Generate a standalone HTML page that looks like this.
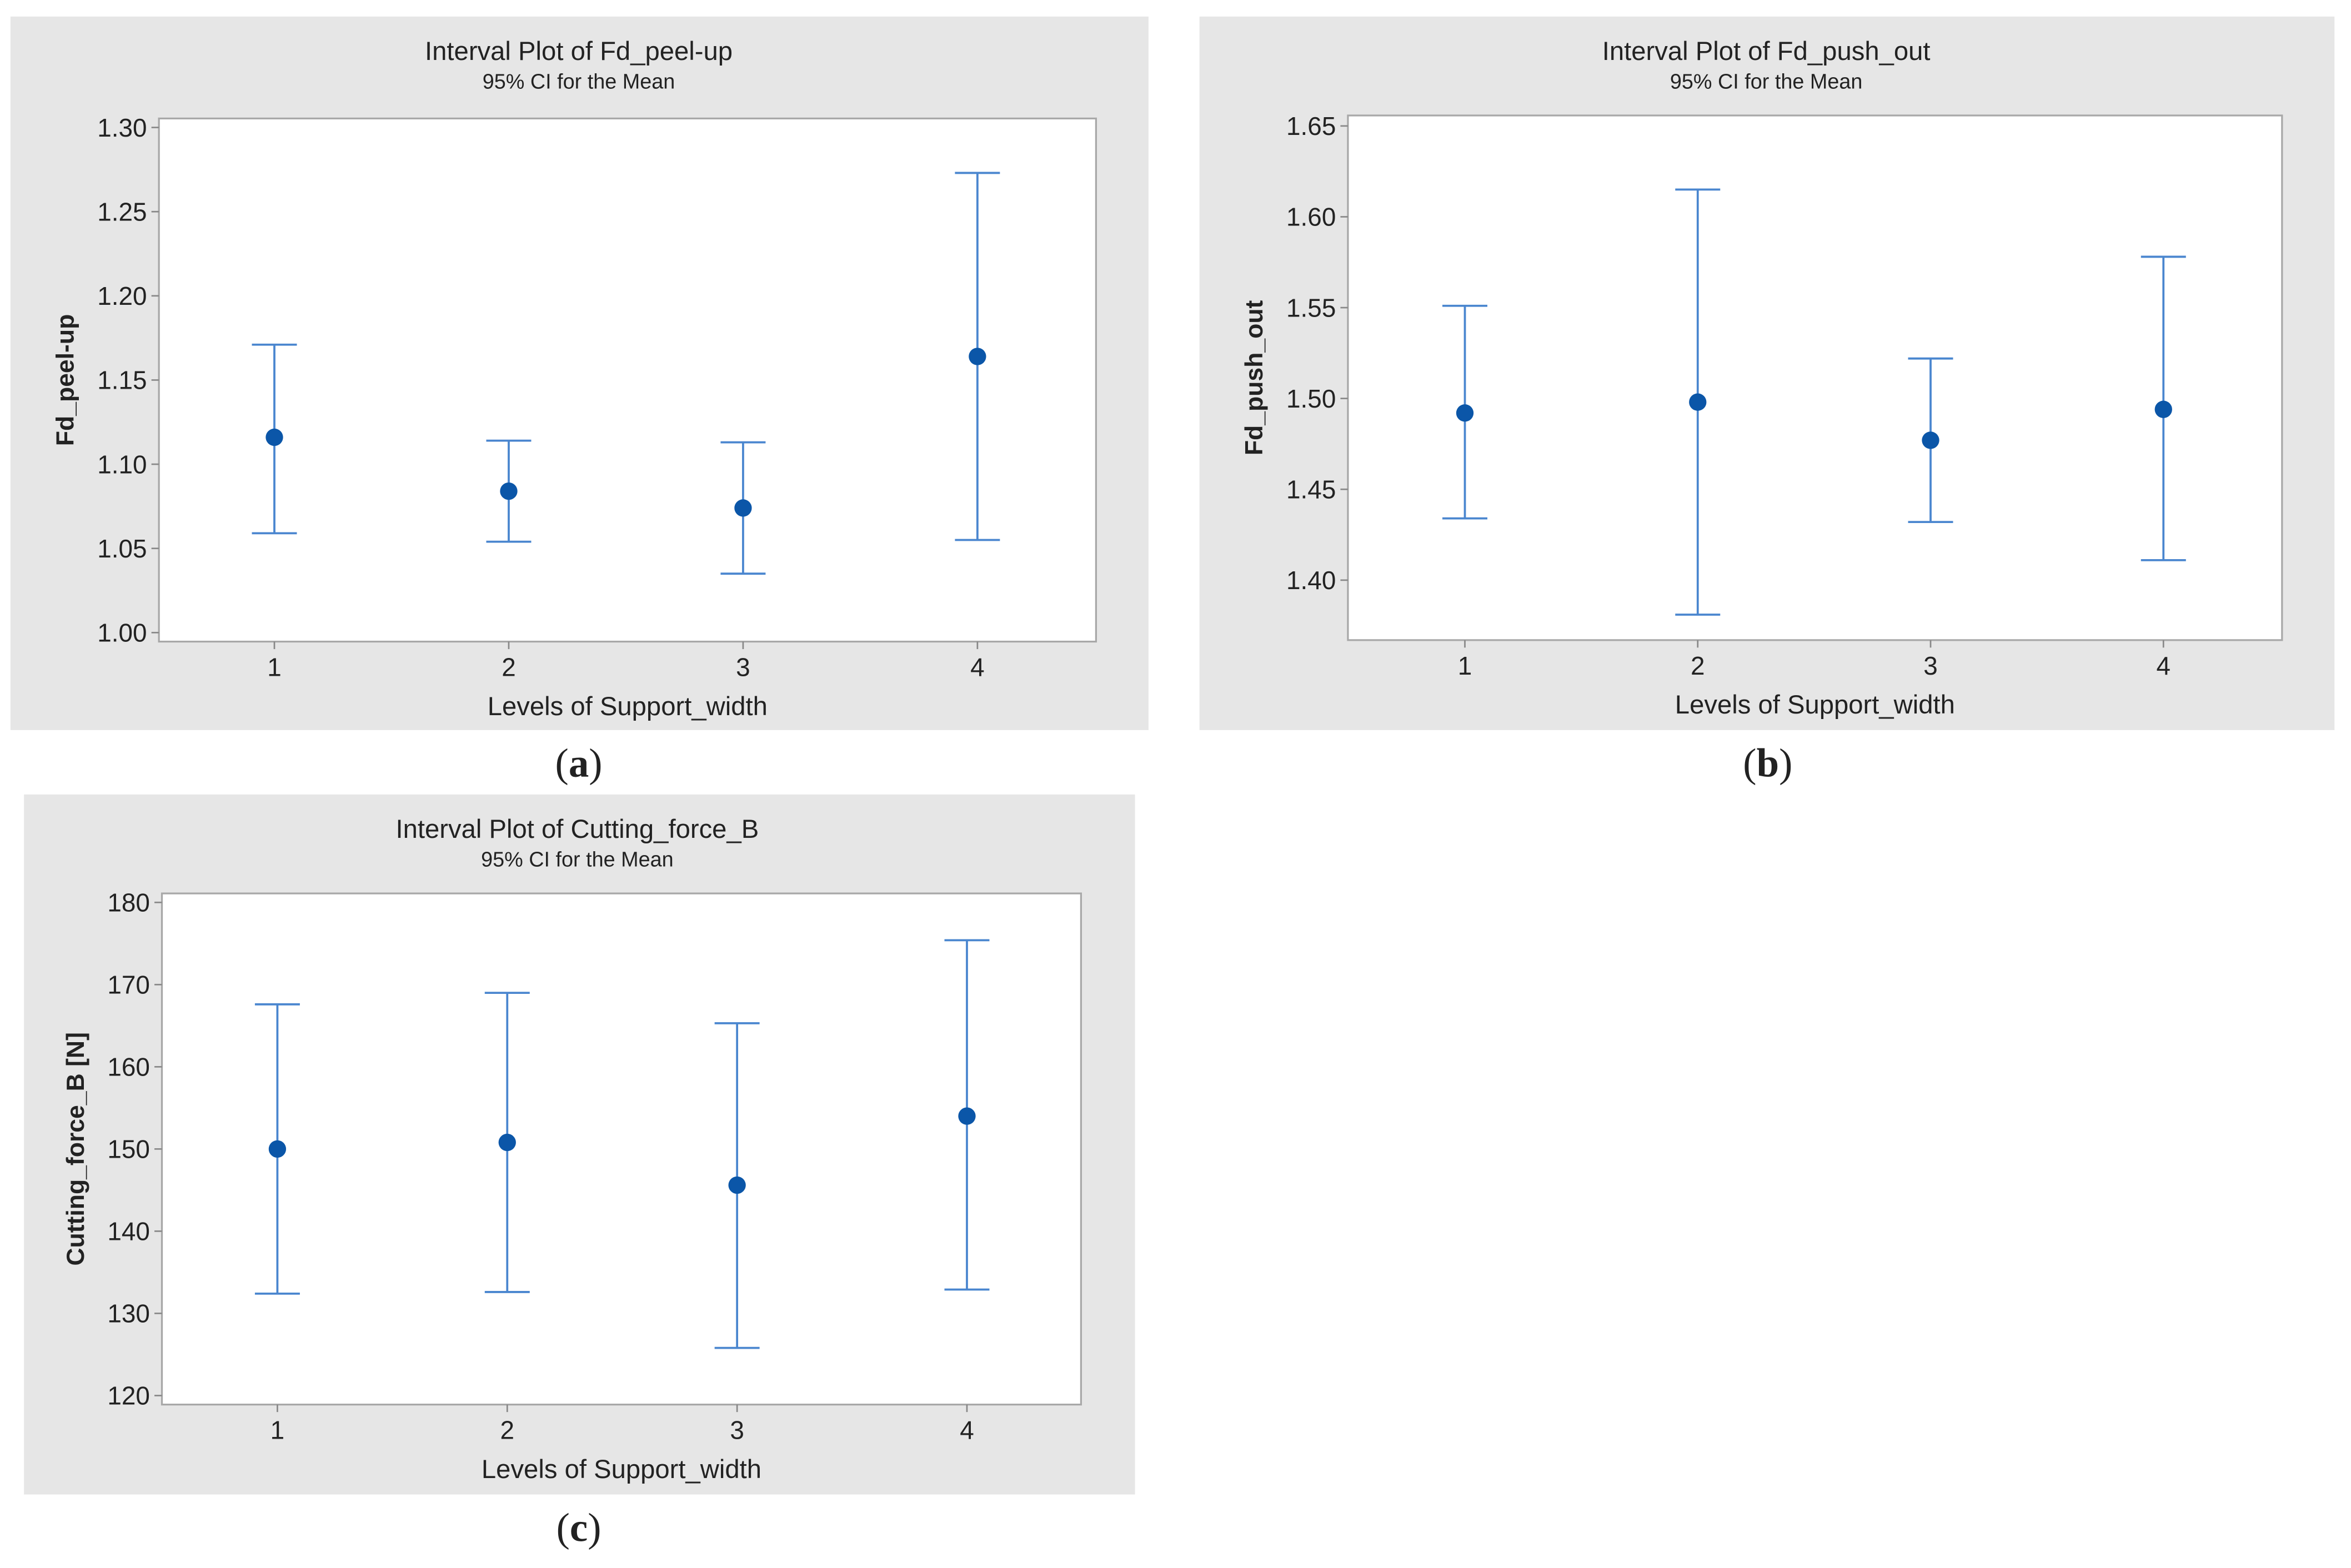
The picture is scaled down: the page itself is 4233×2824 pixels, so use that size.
<!DOCTYPE html>
<html><head><meta charset="utf-8"><style>
html,body{margin:0;padding:0;background:#fff;}
svg{display:block;}
text{font-family:"Liberation Sans",sans-serif;fill:#222;}
</style></head><body>
<svg id="fig" width="4233" height="2824" viewBox="0 0 1568 1046" xmlns="http://www.w3.org/2000/svg"></svg>
<script>
// Panel (a) data
const catsA = ["1","2","3","4"];
const meanA = [1.116,1.084,1.074,1.164];
const loA = [1.059,1.054,1.035,1.055];
const hiA = [1.171,1.114,1.113,1.273];
const ticksA = [1.00,1.05,1.10,1.15,1.20,1.25,1.30];
// Panel (b) data
const catsB = ["1","2","3","4"];
const meanB = [1.492,1.498,1.477,1.494];
const loB = [1.434,1.381,1.432,1.411];
const hiB = [1.551,1.615,1.522,1.578];
const ticksB = [1.40,1.45,1.50,1.55,1.60,1.65];
// Panel (c) data
const catsC = ["1","2","3","4"];
const meanC = [150.0,150.8,145.6,154.0];
const loC = [132.4,132.6,125.8,132.9];
const hiC = [167.6,169.0,165.3,175.4];
const ticksC = [120,130,140,150,160,170,180];

const NS="http://www.w3.org/2000/svg";
const svg=document.getElementById('fig');
function mk(tag,attrs,parent){const e=document.createElementNS(NS,tag);for(const k in attrs)e.setAttribute(k,attrs[k]);(parent||svg).appendChild(e);return e;}
function txt(s,x,y,size,anchor,parent,extra){const t=mk('text',Object.assign({x:x,y:y,'font-size':size,'text-anchor':anchor||'middle'},extra||{}),parent);t.textContent=s;return t;}

function panel(cfg){
  const g=mk('g',{});
  
  
  const bg=mk('rect',{x:cfg.bx,y:cfg.by,width:cfg.bw,height:cfg.bh,fill:'#e6e6e6'},g);
  
  
  const pa=mk('rect',{x:cfg.px,y:cfg.py,width:cfg.pw,height:cfg.ph,fill:'#fff',stroke:'#a8a8a8','stroke-width':1.2},g);
  
  
  const cx=(cfg.bx+cfg.bx+cfg.bw)/2;
  const t=txt(cfg.title,cfg.titleX||cx,cfg.by+29,17.5,'middle',g);
  
  
  const st=txt('95% CI for the Mean',cfg.titleX||cx,cfg.by+48,14,'middle',g);
  
  
  const y=v=>cfg.y0+(v-cfg.v0)*(cfg.y1-cfg.y0)/(cfg.v1-cfg.v0);
  const x=i=>cfg.x0+i*cfg.dx;
  cfg.ticks.forEach(v=>{
    const l=mk('line',{x1:cfg.px-5,x2:cfg.px,y1:y(v),y2:y(v),stroke:'#888','stroke-width':1},g);
    
    
    const tl=txt(v.toFixed(cfg.dec),cfg.px-8,y(v)+6,17,'end',g);
    
    
  });
  cfg.cats.forEach((c,i)=>{
    const l=mk('line',{x1:x(i),x2:x(i),y1:cfg.py+cfg.ph,y2:cfg.py+cfg.ph+5,stroke:'#888','stroke-width':1},g);
    
    
    const tl=txt(c,x(i),cfg.py+cfg.ph+23,17,'middle',g);
    
    
    const eg=mk('g',{},g);
    
    
    mk('line',{x1:x(i),x2:x(i),y1:y(cfg.lo[i]),y2:y(cfg.hi[i]),stroke:'#4a86cf','stroke-width':1.4},eg);
    mk('line',{x1:x(i)-15,x2:x(i)+15,y1:y(cfg.lo[i]),y2:y(cfg.lo[i]),stroke:'#4a86cf','stroke-width':1.4},eg);
    mk('line',{x1:x(i)-15,x2:x(i)+15,y1:y(cfg.hi[i]),y2:y(cfg.hi[i]),stroke:'#4a86cf','stroke-width':1.4},eg);
    const m=mk('circle',{cx:x(i),cy:y(cfg.mean[i]),r:5.8,fill:'#0b56a8'},g);
    
    
  });
  const xl=txt('Levels of Support_width',(cfg.px+cfg.px+cfg.pw)/2,cfg.py+cfg.ph+49,17.5,'middle',g);
  
  
  const yc=(cfg.py+cfg.py+cfg.ph)/2;
  const yl=txt(cfg.ylabel,cfg.ylx,yc,16.5,'middle',g,{transform:'rotate(-90 '+cfg.ylx+' '+yc+')','font-weight':'bold'});
  
  
  const cap=mk('text',{x:cfg.capX,y:cfg.capY,'font-size':27,'text-anchor':'middle',style:'font-family:"Liberation Serif",serif'},svg);
  cap.innerHTML='(<tspan font-weight="bold">'+cfg.cap+'</tspan>)';
  
  
}

panel({name:'panel-a',title:'Interval Plot of Fd_peel-up',bx:7,by:11,bw:759,bh:476,px:106,py:79,pw:625,ph:349,
  v0:1.00,v1:1.30,y0:422,y1:85,x0:183,dx:156.3,ticks:ticksA,dec:2,cats:catsA,mean:meanA,lo:loA,hi:hiA,
  ylabel:'Fd_peel-up',ylx:49,capX:386,capY:518,cap:'a',titleX:386});
panel({name:'panel-b',title:'Interval Plot of Fd_push_out',bx:800,by:11,bw:757,bh:476,px:899,py:77,pw:623,ph:350,
  v0:1.40,v1:1.65,y0:387,y1:84,x0:977,dx:155.3,ticks:ticksB,dec:2,cats:catsB,mean:meanB,lo:loB,hi:hiB,
  ylabel:'Fd_push_out',ylx:842,capX:1179,capY:518,cap:'b',titleX:1178});
panel({name:'panel-c',title:'Interval Plot of Cutting_force_B',bx:16,by:530,bw:741,bh:467,px:108,py:596,pw:613,ph:341,
  v0:120,v1:180,y0:931,y1:602,x0:185,dx:153.3,ticks:ticksC,dec:0,cats:catsC,mean:meanC,lo:loC,hi:hiC,
  ylabel:'Cutting_force_B [N]',ylx:56,capX:386,capY:1028,cap:'c',titleX:385});
</script>
</body></html>
